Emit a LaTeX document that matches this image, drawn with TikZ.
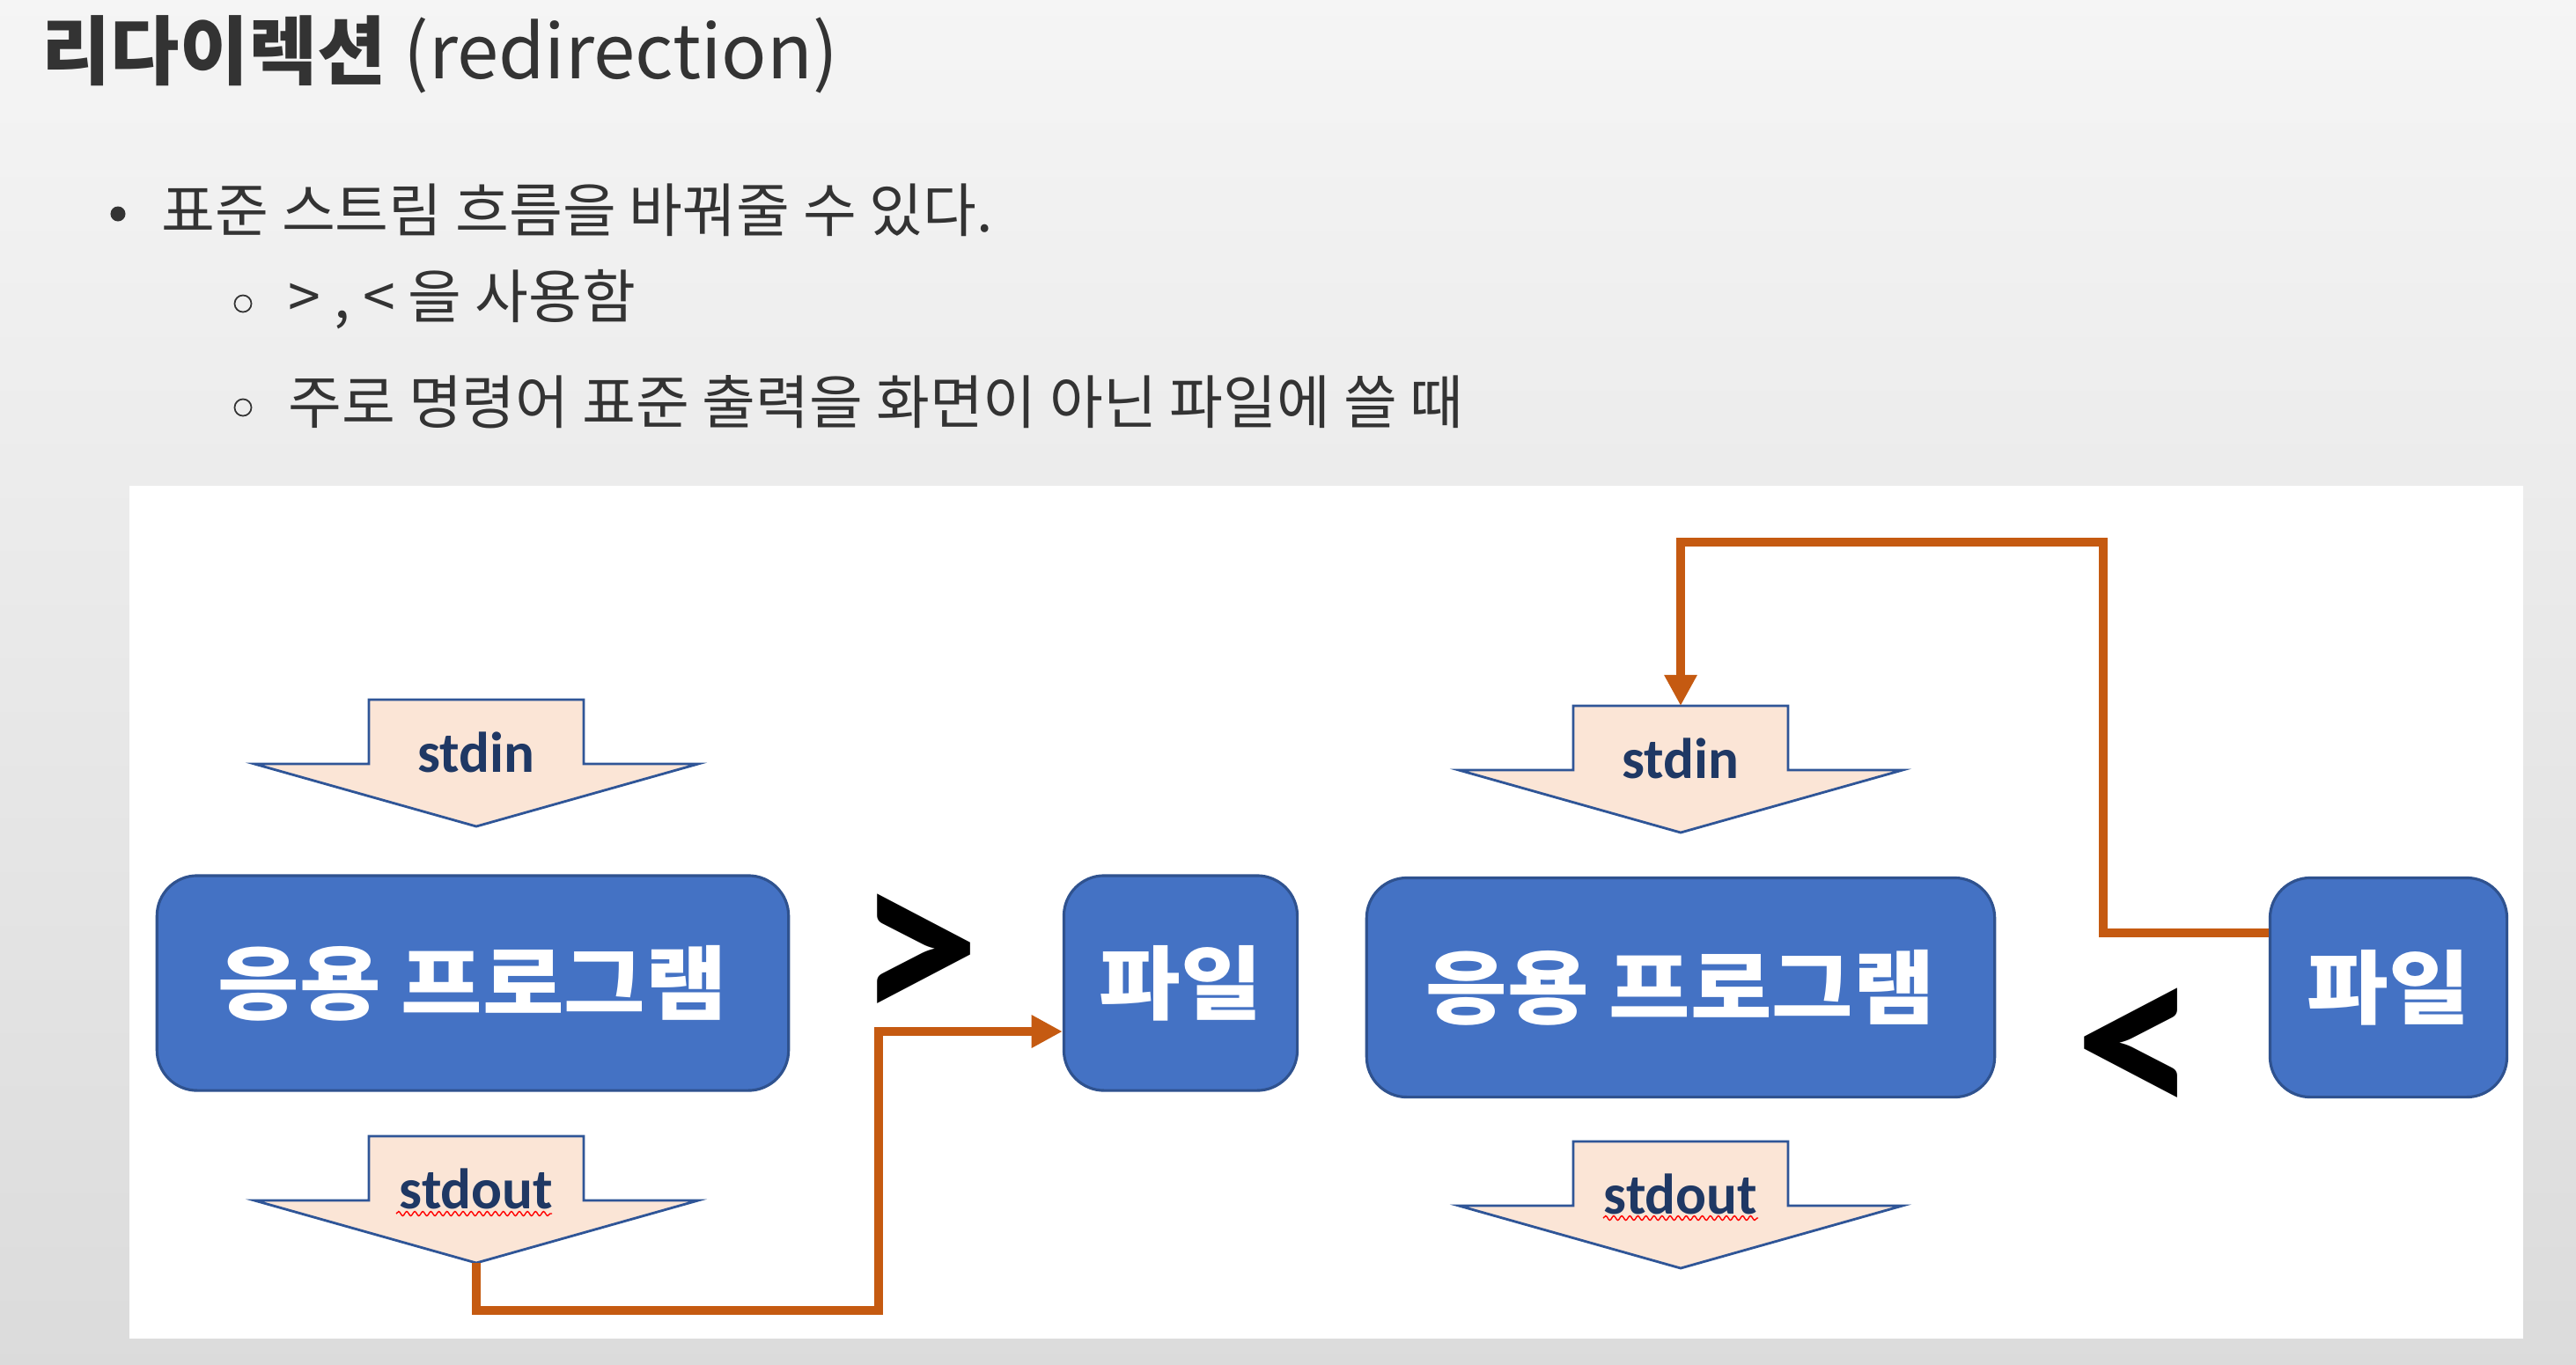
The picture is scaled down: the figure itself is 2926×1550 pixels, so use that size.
\documentclass[tikz,border=0pt]{standalone}
\usepackage{fontspec}
\setmainfont{Noto Sans CJK KR}
\newfontfamily\krbox[FakeStretch=1.1]{Noto Sans CJK KR}
\newfontfamily\carl{Carlito}
\usetikzlibrary{arrows.meta,decorations.pathmorphing}
\definecolor{boxblue}{HTML}{4472C4}
\definecolor{boxline}{HTML}{2F528F}
\definecolor{peach}{HTML}{FBE5D6}
\definecolor{arrline}{HTML}{2F5597}
\definecolor{navy}{HTML}{1F3864}
\definecolor{conn}{HTML}{C55A11}
\definecolor{txt}{HTML}{333333}
\tikzset{
  appbox/.style={draw=boxline, line width=0.9pt, fill=boxblue, rounded corners=13pt,
    text=white, font=\krbox\fontsize{26}{30}\selectfont\bfseries, inner sep=0pt,
    minimum height=2.44cm},
  arrowshape/.style={draw=arrline, line width=0.8pt, fill=peach, line join=miter},
  arrowtext/.style={text=navy, font=\carl\fontsize{18.5}{22}\selectfont\bfseries, inner sep=0pt},
  connline/.style={draw=conn, line width=2.7pt, line join=miter},
  conntip/.style={-{Triangle[length=10pt,width=10pt]}},
  redirsym/.style={font=\carl\fontsize{80}{88}\selectfont\bfseries, text=black, inner sep=0pt},
  wavy/.style={draw=red, line width=0.4pt, decorate, decoration={snake, amplitude=0.7pt, segment length=2.6pt}},
  bodytext/.style={text=txt, anchor=west, inner sep=0pt, font=\fontsize{18.8}{22}\selectfont},
  pics/downarrow/.style={code={
    \draw[arrowshape] (-122,0) -- (122,0) -- (122,73) -- (252,73) -- (0,144) -- (-252,73) -- (-122,73) -- cycle;
    \coordinate (-top) at (0,0);
    \coordinate (-tip) at (0,144);
    \node[arrowtext] (-lbl) at (0,60) {#1};
  }}
}
\begin{document}
\begin{tikzpicture}[x=0.01cm,y=-0.01cm]
\useasboundingbox (0,0) rectangle (2926,1550);
\shade[top color=white!96!black, bottom color=white!86!black] (0,0) rectangle (2926,1550);

% heading and list
\node[text=txt, anchor=west, inner sep=0pt, font=\fontsize{24.2}{28}\selectfont] (title) at (47,62)
  {{\bfseries 리다이렉션} (redirection)};
\node[circle, fill=txt, inner sep=0pt, minimum size=0.17cm] (b1) at (134,243) {};
\node[bodytext] (t1) at (183,239) {표준 스트림 흐름을 바꿔줄 수 있다.};
\node[circle, draw=txt, line width=0.5pt, inner sep=0pt, minimum size=0.19cm] (b2) at (276,345) {};
\node[bodytext] (t2) at (327,340) {> , < 을 사용함};
\node[circle, draw=txt, line width=0.5pt, inner sep=0pt, minimum size=0.19cm] (b3) at (276,463) {};
\node[bodytext] (t3) at (327,457) {주로 명령어 표준 출력을 화면이 아닌 파일에 쓸 때};

% white panel
\fill[white] (147,552) rectangle (2866,1521);

% left diagram
\pic (lin) at (541,795) {downarrow=stdin};
\node[appbox, minimum width=7.17cm] (lapp) at (537,1117) {응용 프로그램};
\pic (lout) at (541,1291) {downarrow=stdout};
\draw[wavy] (450,1379) -- (627,1379);
\node[redirsym] (gt) at (1044,1092) {>};
\node[appbox, minimum width=2.65cm] (lfile) at (1341,1117) {파일};
\coordinate (lc1) at (541,1489);
\coordinate (lc2) at (998,1489);
\coordinate (lc3) at (998,1172);
\draw[connline, conntip] (lout-tip) -- (lc1) -- (lc2) -- (lc3) -- (lc3 -| lfile.west);

% right diagram
\pic (rin) at (1909,802) {downarrow=stdin};
\node[appbox, minimum width=7.13cm, minimum height=2.49cm] (rapp) at (1909,1122) {응용 프로그램};
\pic (rout) at (1909,1297) {downarrow=stdout};
\draw[wavy] (1821,1384) -- (1997,1384);
\node[redirsym] (lt) at (2427,1199) {<};
\node[appbox, minimum width=2.69cm, minimum height=2.49cm] (rfile) at (2713,1122) {파일};
\coordinate (rc1) at (2389,1060);
\coordinate (rc2) at (2389,616);
\coordinate (rc3) at (1909,616);
\draw[connline, conntip] (rc1 -| rfile.west) -- (rc1) -- (rc2) -- (rc3) -- (rin-top);
\end{tikzpicture}
\end{document}
